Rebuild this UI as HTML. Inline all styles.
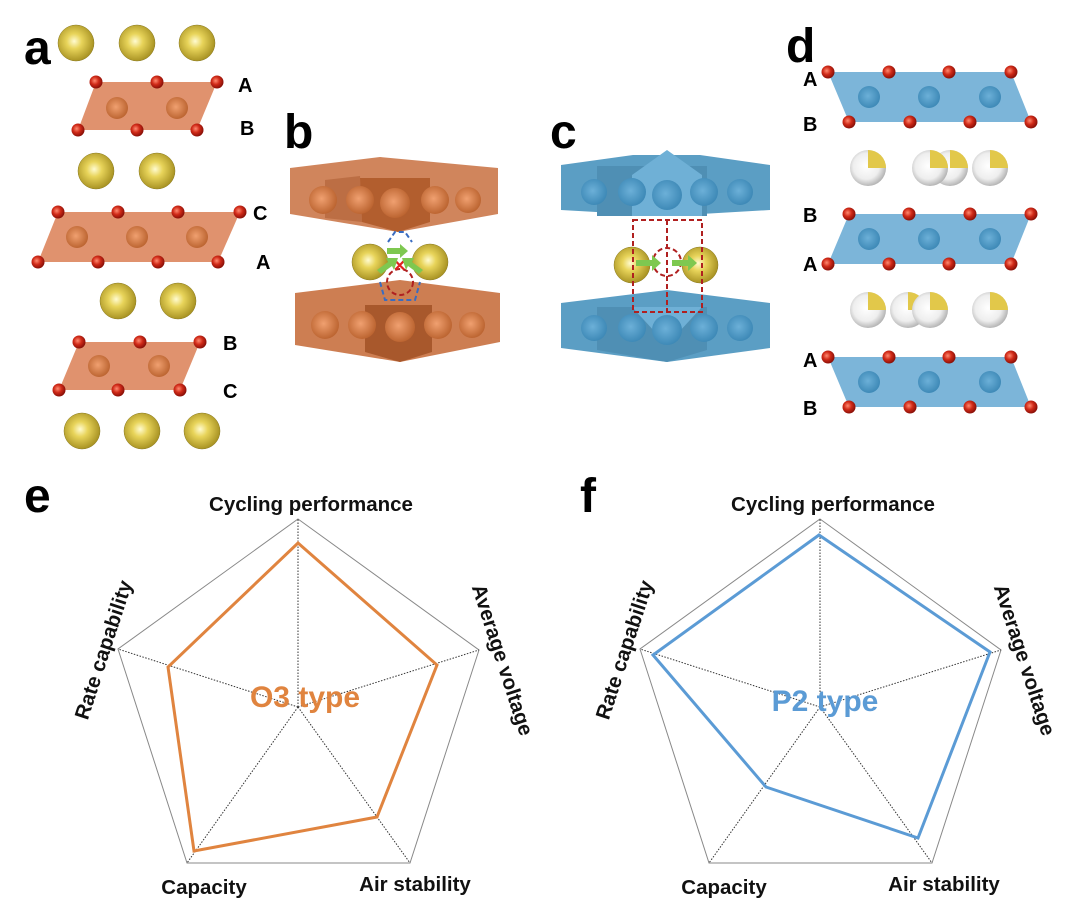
<!DOCTYPE html>
<html><head><meta charset="utf-8"><style>
html,body{margin:0;padding:0;background:#fff;}
svg{display:block;font-family:"Liberation Sans",Arial,sans-serif;}
</style></head><body>
<svg width="1080" height="908" viewBox="0 0 1080 908" xmlns="http://www.w3.org/2000/svg">
<defs>
<radialGradient id="na" cx="0.45" cy="0.45" r="0.6"><stop offset="0" stop-color="#fffbd0"/><stop offset="0.35" stop-color="#e8d45a"/><stop offset="1" stop-color="#a08a1c"/></radialGradient>
<radialGradient id="ox" cx="0.4" cy="0.4" r="0.6"><stop offset="0" stop-color="#ff8a70"/><stop offset="0.5" stop-color="#d02a18"/><stop offset="1" stop-color="#8a1008"/></radialGradient>
<radialGradient id="ni" cx="0.45" cy="0.45" r="0.6"><stop offset="0" stop-color="#f0a070"/><stop offset="1" stop-color="#b8602c"/></radialGradient>
<radialGradient id="co" cx="0.45" cy="0.45" r="0.6"><stop offset="0" stop-color="#6cb0d8"/><stop offset="1" stop-color="#3a86b4"/></radialGradient>
<radialGradient id="wh" cx="0.45" cy="0.45" r="0.6"><stop offset="0" stop-color="#ffffff"/><stop offset="0.6" stop-color="#eeeeee"/><stop offset="1" stop-color="#a8a8a8"/></radialGradient>
<g id="Na"><circle r="18" fill="url(#na)" stroke="#8a7a20" stroke-width="0.5"/></g>
<g id="O"><circle r="6.5" fill="url(#ox)"/></g>
<g id="W"><circle r="18" fill="url(#wh)"/><path d="M0,0 L0,-18 A18,18 0 0 1 18,0 Z" fill="#e2c84a"/></g>
</defs>

<g font-weight="bold" font-size="48" fill="#000">
<text x="24" y="64">a</text>
<text x="284" y="148">b</text>
<text x="550" y="148">c</text>
<text x="786" y="62">d</text>
<text x="24" y="512">e</text>
<text x="580" y="512">f</text>
</g>
<g font-weight="bold" font-size="20" fill="#000">
<text x="238" y="92">A</text><text x="240" y="135">B</text>
<text x="253" y="220">C</text><text x="256" y="269">A</text>
<text x="223" y="350">B</text><text x="223" y="398">C</text>
<text x="803" y="86">A</text><text x="803" y="131">B</text>
<text x="803" y="222">B</text><text x="803" y="271">A</text>
<text x="803" y="367">A</text><text x="803" y="415">B</text>
</g>

<!-- panel a -->
<use href="#Na" x="76" y="43"/><use href="#Na" x="137" y="43"/><use href="#Na" x="197" y="43"/>
<polygon points="96,82 217,82 197,130 78,130" fill="#d8774a" fill-opacity="0.8"/>
<circle cx="117" cy="108" r="11" fill="url(#ni)"/><circle cx="177" cy="108" r="11" fill="url(#ni)"/>
<use href="#O" x="96" y="82"/><use href="#O" x="157" y="82"/><use href="#O" x="217" y="82"/>
<use href="#O" x="78" y="130"/><use href="#O" x="137" y="130"/><use href="#O" x="197" y="130"/>
<use href="#Na" x="96" y="171"/><use href="#Na" x="157" y="171"/>
<polygon points="58,212 240,212 218,262 38,262" fill="#d8774a" fill-opacity="0.8"/>
<circle cx="77" cy="237" r="11" fill="url(#ni)"/><circle cx="137" cy="237" r="11" fill="url(#ni)"/><circle cx="197" cy="237" r="11" fill="url(#ni)"/>
<use href="#O" x="58" y="212"/><use href="#O" x="118" y="212"/><use href="#O" x="178" y="212"/><use href="#O" x="240" y="212"/>
<use href="#O" x="38" y="262"/><use href="#O" x="98" y="262"/><use href="#O" x="158" y="262"/><use href="#O" x="218" y="262"/>
<use href="#Na" x="118" y="301"/><use href="#Na" x="178" y="301"/>
<polygon points="79,342 200,342 180,390 59,390" fill="#d8774a" fill-opacity="0.8"/>
<circle cx="99" cy="366" r="11" fill="url(#ni)"/><circle cx="159" cy="366" r="11" fill="url(#ni)"/>
<use href="#O" x="79" y="342"/><use href="#O" x="140" y="342"/><use href="#O" x="200" y="342"/>
<use href="#O" x="59" y="390"/><use href="#O" x="118" y="390"/><use href="#O" x="180" y="390"/>
<use href="#Na" x="82" y="431"/><use href="#Na" x="142" y="431"/><use href="#Na" x="202" y="431"/>

<!-- panel b -->
<polygon points="290,168 380,157 498,168 498,214 398,232 290,214" fill="#c8703f" fill-opacity="0.85"/>
<polygon points="325,180 360,176 362,222 325,218" fill="#a8582c" opacity="0.5"/>
<polygon points="360,178 430,178 430,222 398,232 362,222" fill="#b25e2e"/>
<circle cx="323" cy="200" r="14" fill="url(#ni)"/><circle cx="360" cy="200" r="14" fill="url(#ni)"/><circle cx="395" cy="203" r="15" fill="url(#ni)"/><circle cx="435" cy="200" r="14" fill="url(#ni)"/><circle cx="468" cy="200" r="13" fill="url(#ni)"/>
<polygon points="295,293 400,280 500,293 500,342 400,362 295,345" fill="#c8703f" fill-opacity="0.9"/>
<polygon points="365,305 432,305 432,352 400,362 365,352" fill="#a8582c"/>
<circle cx="325" cy="325" r="14" fill="url(#ni)"/><circle cx="362" cy="325" r="14" fill="url(#ni)"/><circle cx="400" cy="327" r="15" fill="url(#ni)"/><circle cx="438" cy="325" r="14" fill="url(#ni)"/><circle cx="472" cy="325" r="13" fill="url(#ni)"/>
<use href="#Na" x="370" y="262"/><use href="#Na" x="430" y="262"/>
<g fill="none" stroke-dasharray="5,3" stroke-width="2">
<path d="M388,242 L395,232 L405,232 L412,242 M380,282 L385,300 L415,300 L420,282" stroke="#3a6cc0"/>
<circle cx="400" cy="282" r="13" stroke="#b02020"/>
</g>
<text x="393" y="271" fill="#e02020" font-size="16" font-weight="bold">✕</text>
<g fill="#7ec850"><polygon points="387,248 400,248 400,244 408,251 400,258 400,254 387,254"/><polygon points="377,270 388,262 386,258 398,258 394,270 392,266 381,274"/><polygon points="423,270 412,262 414,258 402,258 406,270 408,266 419,274"/></g>

<!-- panel c -->
<polygon points="561,165 633,155 700,155 770,165 770,210 667,216 561,210" fill="#5b9ec4"/>
<polygon points="597,166 707,166 707,216 597,216" fill="#4f8fb4"/>
<polygon points="632,175 667,150 702,175 702,216 632,216" fill="#6fb0d6"/>
<circle cx="594" cy="192" r="13" fill="url(#co)"/><circle cx="632" cy="192" r="14" fill="url(#co)"/><circle cx="667" cy="195" r="15" fill="url(#co)"/><circle cx="704" cy="192" r="14" fill="url(#co)"/><circle cx="740" cy="192" r="13" fill="url(#co)"/>
<polygon points="561,303 667,290 770,303 770,348 667,362 561,348" fill="#5b9ec4"/>
<polygon points="597,307 707,307 707,350 667,362 597,350" fill="#4f8fb4"/>
<polygon points="632,307 702,307 667,345" fill="#6fb0d6"/>
<circle cx="594" cy="328" r="13" fill="url(#co)"/><circle cx="632" cy="328" r="14" fill="url(#co)"/><circle cx="667" cy="330" r="15" fill="url(#co)"/><circle cx="704" cy="328" r="14" fill="url(#co)"/><circle cx="740" cy="328" r="13" fill="url(#co)"/>
<use href="#Na" x="632" y="265"/><use href="#Na" x="700" y="265"/>
<g fill="none" stroke="#b02020" stroke-width="2" stroke-dasharray="5,3">
<rect x="633" y="220" width="69" height="92"/><line x1="667" y1="220" x2="667" y2="312"/>
<circle cx="667" cy="262" r="14"/>
</g>
<g fill="#7ec850"><polygon points="636,260 652,260 652,255 661,263 652,271 652,266 636,266"/><polygon points="672,260 688,260 688,255 697,263 688,271 688,266 672,266"/></g>

<!-- panel d -->
<g id="lay1">
<polygon points="828,72 1011,72 1031,122 849,122" fill="#5ba3d0" fill-opacity="0.8"/>
<circle cx="869" cy="97" r="11" fill="url(#co)"/><circle cx="929" cy="97" r="11" fill="url(#co)"/><circle cx="990" cy="97" r="11" fill="url(#co)"/>
<use href="#O" x="828" y="72"/><use href="#O" x="889" y="72"/><use href="#O" x="949" y="72"/><use href="#O" x="1011" y="72"/>
<use href="#O" x="849" y="122"/><use href="#O" x="910" y="122"/><use href="#O" x="970" y="122"/><use href="#O" x="1031" y="122"/>
</g>
<use href="#W" x="868" y="168"/><use href="#W" x="950" y="168"/><use href="#W" x="930" y="168"/><use href="#W" x="990" y="168"/>
<polygon points="849,214 1031,214 1011,264 828,264" fill="#5ba3d0" fill-opacity="0.8"/>
<circle cx="869" cy="239" r="11" fill="url(#co)"/><circle cx="929" cy="239" r="11" fill="url(#co)"/><circle cx="990" cy="239" r="11" fill="url(#co)"/>
<use href="#O" x="849" y="214"/><use href="#O" x="909" y="214"/><use href="#O" x="970" y="214"/><use href="#O" x="1031" y="214"/>
<use href="#O" x="828" y="264"/><use href="#O" x="889" y="264"/><use href="#O" x="949" y="264"/><use href="#O" x="1011" y="264"/>
<use href="#W" x="868" y="310"/><use href="#W" x="908" y="310"/><use href="#W" x="930" y="310"/><use href="#W" x="990" y="310"/>
<use href="#lay1" x="0" y="285"/>

<!-- panel e -->
<polygon points="298,519 479,650 410,863 187,863 118,649" fill="none" stroke="#888" stroke-width="1"/>
<g stroke="#333" stroke-width="1" stroke-dasharray="1.5,1.5">
<line x1="298" y1="707" x2="298" y2="519"/><line x1="298" y1="707" x2="479" y2="650"/><line x1="298" y1="707" x2="410" y2="863"/><line x1="298" y1="707" x2="187" y2="863"/><line x1="298" y1="707" x2="118" y2="649"/>
</g>
<polygon points="298,543 437,665 377,817 194,851 168,667" fill="none" stroke="#e0843f" stroke-width="3"/>
<text x="305" y="707" text-anchor="middle" font-size="30" font-weight="bold" fill="#e0843f">O3 type</text>
<g font-size="20.5" font-weight="bold" fill="#111">
<text x="311" y="511" text-anchor="middle">Cycling performance</text>
<text x="204" y="894" text-anchor="middle">Capacity</text>
<text x="415" y="891" text-anchor="middle">Air stability</text>
<text transform="translate(110,652) rotate(-72)" text-anchor="middle">Rate capability</text>
<text transform="translate(496,662) rotate(72)" text-anchor="middle">Average voltage</text>
</g>

<!-- panel f -->
<polygon points="820,519 1001,650 932,863 709,863 640,649" fill="none" stroke="#888" stroke-width="1"/>
<g stroke="#333" stroke-width="1" stroke-dasharray="1.5,1.5">
<line x1="820" y1="707" x2="820" y2="519"/><line x1="820" y1="707" x2="1001" y2="650"/><line x1="820" y1="707" x2="932" y2="863"/><line x1="820" y1="707" x2="709" y2="863"/><line x1="820" y1="707" x2="640" y2="649"/>
</g>
<polygon points="819,535 990,652 918,838 766,787 653,655" fill="none" stroke="#5b9bd5" stroke-width="3"/>
<text x="825" y="711" text-anchor="middle" font-size="30" font-weight="bold" fill="#5b9bd5">P2 type</text>
<g font-size="20.5" font-weight="bold" fill="#111">
<text x="833" y="511" text-anchor="middle">Cycling performance</text>
<text x="724" y="894" text-anchor="middle">Capacity</text>
<text x="944" y="891" text-anchor="middle">Air stability</text>
<text transform="translate(631,652) rotate(-72)" text-anchor="middle">Rate capability</text>
<text transform="translate(1018,662) rotate(72)" text-anchor="middle">Average voltage</text>
</g>
</svg>
</body></html>
